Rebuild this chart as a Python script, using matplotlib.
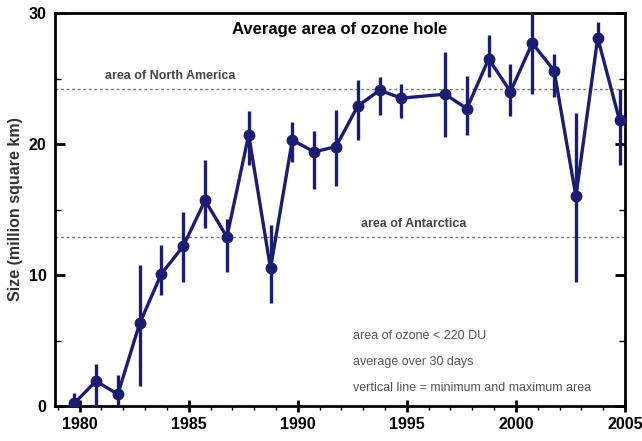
import matplotlib
matplotlib.use("Agg")
import matplotlib.pyplot as plt
from matplotlib.ticker import MultipleLocator

years = [1979, 1980, 1981, 1982, 1983, 1984, 1985, 1986, 1987, 1988, 1989, 1990,
         1991, 1992, 1993, 1994, 1996, 1997, 1998, 1999, 2000, 2001, 2002, 2003, 2004]
avg_area = [0.2, 1.9, 0.9, 6.3, 10.1, 12.2, 15.7, 12.9, 20.7, 10.5, 20.3, 19.4,
            19.8, 22.9, 24.1, 23.5, 23.8, 22.7, 26.5, 24.0, 27.7, 25.6, 16.0, 28.1, 21.8]
min_area = [0.0, 0.0, 0.0, 1.5, 8.5, 9.5, 13.6, 10.2, 18.4, 7.9, 18.6, 16.6,
            16.8, 20.3, 22.2, 22.0, 20.5, 20.7, 25.1, 22.1, 23.8, 23.6, 9.5, 27.4, 18.4]
max_area = [1.0, 3.2, 2.4, 10.8, 12.3, 14.8, 18.8, 14.3, 22.5, 13.8, 21.7, 21.0,
            22.6, 24.9, 25.1, 24.6, 27.0, 25.2, 28.3, 26.1, 30.5, 26.9, 22.4, 29.3, 24.2]
north_america = 24.2
antarctica = 12.9

plt.rcParams['font.family'] = ['Liberation Sans', 'DejaVu Sans']
color = '#1c1c72'

fig = plt.figure(figsize=(6.42, 4.41), dpi=100)
ax = fig.add_axes([55/642, 35/441, 570/642, 393/441])

xs = [y + 0.75 for y in years]
ax.vlines(xs, min_area, max_area, color=color, lw=2.4, zorder=3)
ax.plot(xs, avg_area, color=color, lw=2.4, marker='o', ms=7.5, zorder=4)

ax.axhline(north_america, color='#777777', lw=1, ls=(0, (2, 2)), zorder=1)
ax.axhline(antarctica, color='#777777', lw=1, ls=(0, (2, 2)), zorder=1)
ax.text(1981.15, north_america + 0.55, 'area of North America', fontsize=9,
        fontweight='bold', color='#444444', va='bottom', ha='left')
ax.text(1992.9, antarctica + 0.55, 'area of Antarctica', fontsize=9,
        fontweight='bold', color='#444444', va='bottom', ha='left')

ax.set_title('Average area of ozone hole', fontsize=12, fontweight='bold', y=0.925)

ax.text(0.522, 0.17, 'area of ozone < 220 DU', transform=ax.transAxes, fontsize=9, color='#555555')
ax.text(0.522, 0.104, 'average over 30 days', transform=ax.transAxes, fontsize=9, color='#555555')
ax.text(0.522, 0.038, 'vertical line = minimum and maximum area', transform=ax.transAxes, fontsize=9, color='#555555')

ax.set_xlim(1978.87, 2005)
ax.set_ylim(0, 30)
ax.xaxis.set_major_locator(MultipleLocator(5))
ax.xaxis.set_minor_locator(MultipleLocator(1))
ax.yaxis.set_major_locator(MultipleLocator(10))
ax.yaxis.set_minor_locator(MultipleLocator(5))
ax.tick_params(axis='y', which='major', direction='in', length=7, width=2, right=True, labelsize=11.5, pad=6)
ax.tick_params(axis='y', which='minor', direction='in', length=4, width=1, right=True)
ax.tick_params(axis='x', which='major', direction='inout', length=8, width=2, labelsize=11.5, pad=4)
ax.tick_params(axis='x', which='minor', direction='out', length=3, width=1)
for lab in ax.get_xticklabels() + ax.get_yticklabels():
    lab.set_fontweight('bold')
for s in ax.spines.values():
    s.set_linewidth(2)

ax.set_ylabel('Size (million square km)', fontsize=11.5, fontweight='bold', color='#333333', labelpad=4)

fig.savefig('out.png', dpi=100)
